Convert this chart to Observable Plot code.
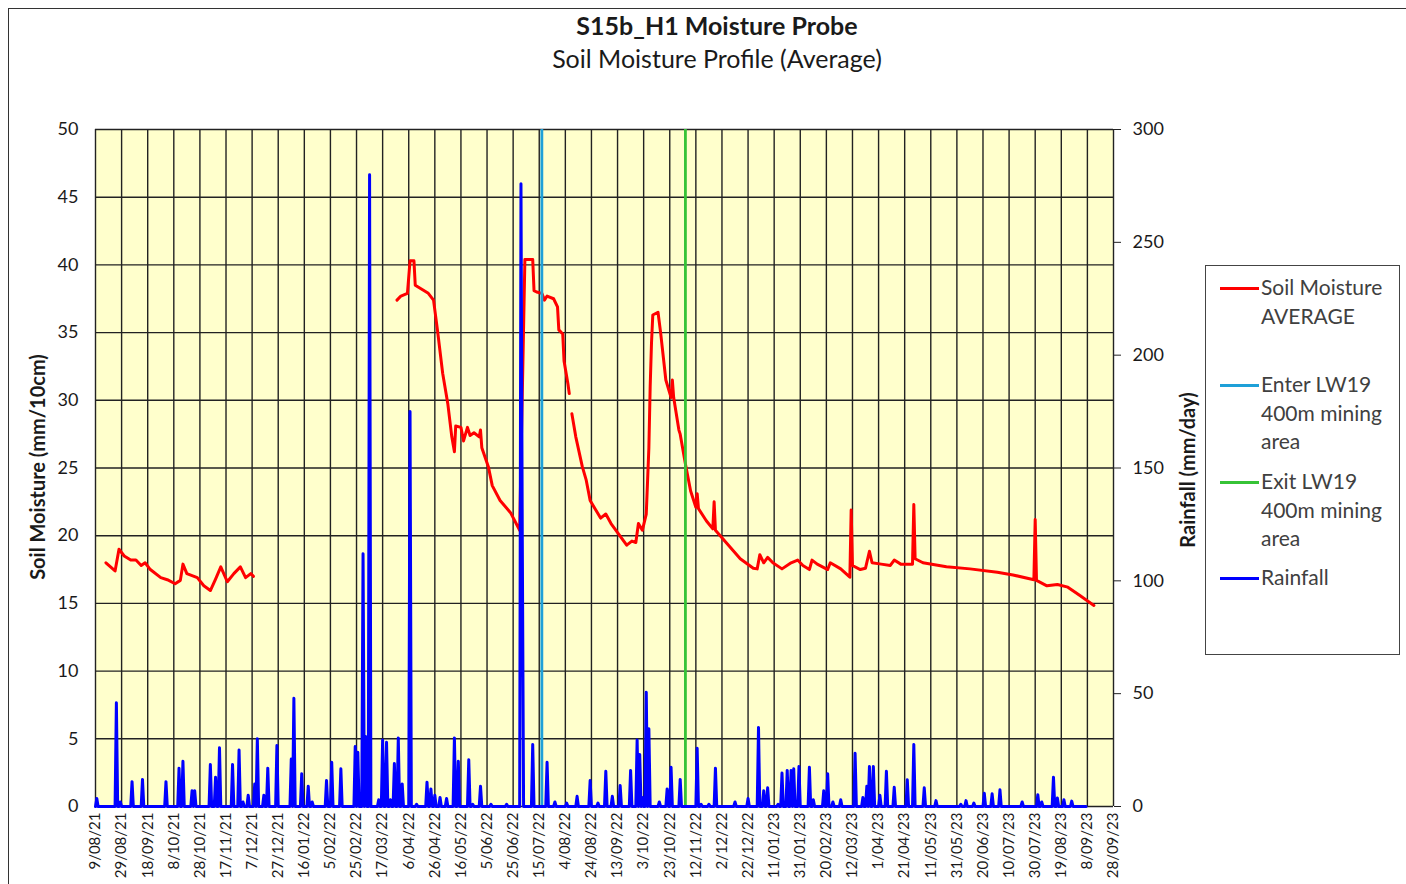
<!DOCTYPE html>
<html>
<head>
<meta charset="utf-8">
<script src="https://cdn.jsdelivr.net/npm/d3@7"></script>
<script src="https://cdn.jsdelivr.net/npm/@observablehq/plot@0.6"></script>
<style>
  html, body { margin: 0; padding: 0; background: #fff; }
  body { font-family: Lato, "Open Sans", sans-serif; color: #1a1a1a; }
  #wrap { position: relative; width: 1406px; height: 884px; overflow: hidden; background: #fff; }
  #frame { position: absolute; left: 8px; top: 8px; width: 1500px; height: 1000px; border: 1px solid #333; box-sizing: border-box; pointer-events: none; }
  #header { position: relative; height: 80px; }
  #title { position: absolute; left: 0; width: 1434px; top: 9px; text-align: center; font-weight: bold; font-size: 25px; line-height: 32px; color: #1a1a1a; }
  #subtitle { position: absolute; left: 0; width: 1434px; top: 42px; text-align: center; font-size: 25px; line-height: 32px; color: #1a1a1a; }
  .ylab { position: absolute; font-weight: bold; font-size: 20px; white-space: nowrap; transform: translate(-50%, -50%) rotate(-90deg); color: #1a1a1a; }
  #legend { position: absolute; left: 1205px; top: 265px; width: 195px; height: 390px; border: 1px solid #444; box-sizing: border-box; background: #fff; }
  .item { position: absolute; left: 0; width: 195px; }
  .sw { position: absolute; left: 14px; width: 39px; height: 0; border-top: 3px solid; }
  .txt { position: absolute; left: 55px; font-size: 21px; line-height: 28.5px; color: #404040; white-space: nowrap; }
</style>
</head>
<body>
<div id="wrap">
  <div id="header">
    <div id="title">S15b_H1 Moisture Probe</div>
    <div id="subtitle">Soil Moisture Profile (Average)</div>
  </div>
  <div id="chart"></div>
  <div class="ylab" style="left:37px; top:467px;">Soil Moisture (mm/10cm)</div>
  <div class="ylab" style="left:1187px; top:470px;">Rainfall (mm/day)</div>
  <div id="legend"></div>
  <div id="frame"></div>
</div>
<script>
// ---------- DATA ----------
const tickLabels = ["9/08/21","29/08/21","18/09/21","8/10/21","28/10/21","17/11/21","7/12/21","27/12/21",
  "16/01/22","5/02/22","25/02/22","17/03/22","6/04/22","26/04/22","16/05/22","5/06/22","25/06/22","15/07/22",
  "4/08/22","24/08/22","13/09/22","3/10/22","23/10/22","12/11/22","2/12/22","22/12/22","11/01/23","31/01/23",
  "20/02/23","12/03/23","1/04/23","21/04/23","11/05/23","31/05/23","20/06/23","10/07/23","30/07/23","19/08/23",
  "8/09/23","28/09/23"];

const leftTicks = [0, 5, 10, 15, 20, 25, 30, 35, 40, 45, 50];
const rightTicks = [0, 50, 100, 150, 200, 250, 300];

// Soil moisture average (mm/10cm); null = no data (gap)
const moistDates = [
  "2021-08-17","2021-08-24","2021-08-27","2021-08-31","2021-09-05","2021-09-09","2021-09-13","2021-09-16",
  "2021-09-20","2021-09-28","2021-10-03","2021-10-09","2021-10-13","2021-10-15","2021-10-18","2021-10-26",
  "2021-10-31","2021-11-05","2021-11-09","2021-11-13","2021-11-18","2021-11-23","2021-11-28","2021-12-02",
  "2021-12-06","2021-12-08","2021-12-09",
  "2022-03-28","2022-03-31","2022-04-05","2022-04-07","2022-04-10","2022-04-11","2022-04-16","2022-04-21",
  "2022-04-25","2022-04-28","2022-05-02","2022-05-06","2022-05-09","2022-05-11","2022-05-12","2022-05-16",
  "2022-05-18","2022-05-21","2022-05-23","2022-05-26","2022-05-30","2022-05-31","2022-06-01","2022-06-06",
  "2022-06-09","2022-06-15","2022-06-23","2022-06-30",
  "2022-07-04","2022-07-07","2022-07-10","2022-07-11","2022-07-13","2022-07-17","2022-07-19","2022-07-21",
  "2022-07-26","2022-07-29","2022-07-30","2022-08-02","2022-08-03","2022-08-06","2022-08-07","2022-08-08",
  "2022-08-09","2022-08-12","2022-08-17","2022-08-20","2022-08-23","2022-08-31","2022-09-04","2022-09-08",
  "2022-09-14","2022-09-20","2022-09-24","2022-09-27","2022-09-29","2022-10-02","2022-10-05","2022-10-07",
  "2022-10-08","2022-10-09","2022-10-10","2022-10-14","2022-10-16","2022-10-20","2022-10-24","2022-10-25",
  "2022-10-26","2022-10-30","2022-10-31","2022-11-04","2022-11-08","2022-11-12","2022-11-13","2022-11-14",
  "2022-11-20","2022-11-25","2022-11-26","2022-11-27","2022-12-06","2022-12-16","2022-12-26","2022-12-29",
  "2022-12-31","2023-01-03","2023-01-06","2023-01-10","2023-01-17","2023-01-24","2023-01-29","2023-02-02",
  "2023-02-07","2023-02-09","2023-02-13","2023-02-21","2023-02-23","2023-03-03","2023-03-10","2023-03-11",
  "2023-03-12","2023-03-18","2023-03-22","2023-03-25","2023-03-27","2023-04-03","2023-04-10","2023-04-13",
  "2023-04-18","2023-04-27","2023-04-28","2023-04-29","2023-05-05","2023-05-23","2023-06-10","2023-07-01",
  "2023-07-13","2023-07-29","2023-07-30","2023-07-31","2023-08-08","2023-08-16","2023-08-24","2023-09-02",
  "2023-09-13"];
const moistValues = [
  18.0,17.4,19.0,18.5,18.2,18.2,17.8,18.0,
  17.5,16.9,16.75,16.45,16.7,17.9,17.2,16.9,
  16.3,15.95,16.8,17.7,16.6,17.2,17.7,16.9,
  17.2,17.0,null,
  37.4,37.7,37.9,40.3,40.3,38.5,38.2,37.9,
  37.4,35.2,32.0,29.7,27.3,26.2,28.1,28.0,
  27.0,28.0,27.4,27.6,27.3,27.8,26.5,25.1,
  23.7,22.6,21.7,20.4,
  40.4,40.4,40.4,38.1,38.0,37.9,37.4,37.7,
  37.5,36.9,35.2,34.9,32.9,31.2,30.5,null,
  29.0,27.3,25.1,24.1,22.6,21.3,21.6,20.9,
  20.1,19.3,19.6,19.5,20.9,20.4,21.6,26.5,
  31.0,34.2,36.3,36.5,35.0,31.5,30.2,31.5,
  30.2,27.8,27.5,25.3,23.3,22.1,23.1,22.0,
  21.1,20.5,22.5,20.4,19.4,18.3,17.6,17.55,
  18.6,18.0,18.4,18.0,17.55,18.0,18.2,17.8,
  17.5,18.2,17.9,17.5,18.0,17.55,16.94,21.9,
  17.8,17.5,17.6,18.85,18.0,17.9,17.8,18.2,
  17.9,17.9,22.3,18.3,18.0,17.7,17.55,17.3,
  17.1,16.75,21.2,16.7,16.3,16.4,16.2,15.6,
  14.85];

// Daily rainfall (mm/day) on rain days; every other day of the record is 0
const rainDates = [
  "2021-08-10","2021-08-25","2021-08-28","2021-09-06","2021-09-14","2021-10-02","2021-10-12","2021-10-15",
  "2021-10-22","2021-10-24","2021-11-05","2021-11-09","2021-11-12","2021-11-22","2021-11-27","2021-11-30",
  "2021-12-04","2021-12-09","2021-12-11","2021-12-16","2021-12-19","2021-12-26","2022-01-06","2022-01-08",
  "2022-01-14","2022-01-19","2022-01-22","2022-02-02","2022-02-06","2022-02-13","2022-02-24","2022-02-26",
  "2022-03-02","2022-03-04","2022-03-07","2022-03-14","2022-03-17","2022-03-20","2022-03-23","2022-03-26",
  "2022-03-29","2022-04-01","2022-04-07","2022-04-12","2022-04-20","2022-04-23","2022-04-26","2022-04-30",
  "2022-05-05","2022-05-11","2022-05-14","2022-05-22","2022-05-25","2022-05-31","2022-06-08","2022-06-20",
  "2022-07-01","2022-07-02","2022-07-10","2022-07-21","2022-07-27","2022-08-05","2022-08-13","2022-08-23",
  "2022-08-29","2022-09-04","2022-09-09","2022-09-15","2022-09-23","2022-09-28","2022-09-30","2022-10-02",
  "2022-10-05","2022-10-07","2022-10-15","2022-10-21","2022-10-24","2022-10-31","2022-11-13","2022-11-16",
  "2022-11-22","2022-11-27","2022-12-12","2022-12-22","2022-12-30","2023-01-03","2023-01-06","2023-01-14",
  "2023-01-17","2023-01-21","2023-01-24","2023-01-26","2023-01-30","2023-02-07","2023-02-10","2023-02-18",
  "2023-02-21","2023-02-25","2023-03-03","2023-03-14","2023-03-20","2023-03-23","2023-03-25","2023-03-28",
  "2023-04-02","2023-04-07","2023-04-13","2023-04-23","2023-04-28","2023-05-06","2023-05-15","2023-06-03",
  "2023-06-07","2023-06-13","2023-06-21","2023-06-27","2023-07-03","2023-07-20","2023-08-01","2023-08-04",
  "2023-08-13","2023-08-16","2023-08-21","2023-08-27"];
const rainValues = [
  3.5,46,2,11,12,11,17,20,
  7,7,18.6,13,26,18.6,25,2,
  5,10,30,5,17,27,21,48,
  14.5,9,2,11.5,19.6,16.7,26.6,24,
  112,31,280,3,29.5,28.5,3,19,
  30.4,10,175,1,10.8,7.8,5,4,
  3.5,30.4,20,20.7,1,9,1,1,
  276,120,27.5,19.6,2,1.5,4.5,11.5,
  1.5,15.6,4.5,9.3,16,29.5,23,4,
  50.6,34.4,2,7.8,17.4,12,25.8,1,
  1,17,2,3.5,35,7,8.3,1,
  14.8,16,16,16.7,17.7,17.4,3,7,
  14.5,2,3,23.6,4,9,17.7,17.7,
  5,15.6,8.5,11.8,27.5,8.3,2.6,1,
  2.6,1.5,5.9,5.6,7.4,2,5.2,2,
  13,3.8,3,2.4];
const rainEnd = "2023-09-07";

const enterDate = "2022-07-17";
const exitDate = "2022-11-04";

const series = [
  {name: "Soil Moisture", lines: ["Soil Moisture", "AVERAGE"], color: "#FF0000", top: 7},
  {name: "Enter", lines: ["Enter LW19", "400m mining", "area"], color: "#1EA0D8", top: 104},
  {name: "Exit", lines: ["Exit LW19", "400m mining", "area"], color: "#36C336", top: 201},
  {name: "Rainfall", lines: ["Rainfall"], color: "#0000FF", top: 297}
];

// ---------- BUILD ----------
const RATIO = rightTicks[rightTicks.length - 1] / leftTicks[leftTicks.length - 1]; // 300/50
const parseISO = d3.utcParse("%Y-%m-%d");
const parseTick = d3.utcParse("%d/%m/%y");
const xTicks = tickLabels.map(parseTick);
const labelOf = new Map(xTicks.map((d, i) => [+d, tickLabels[i]]));

const moist = moistDates.map((d, i) => ({date: parseISO(d), v: moistValues[i] == null ? NaN : moistValues[i]}));
const rainMap = new Map(rainDates.map((d, i) => [+parseISO(d), rainValues[i]]));
const rain = d3.utcDay.range(xTicks[0], d3.utcDay.offset(parseISO(rainEnd), 1))
  .map(d => ({date: d, mm: rainMap.get(+d) ?? 0}));

const colorOf = Object.fromEntries(series.map(s => [s.name, s.color]));
const GRID = "#222";

const chart = Plot.plot({
  width: 1406,
  height: 804,
  marginLeft: 95,
  marginRight: 293,
  marginTop: 49,
  marginBottom: 78,
  style: {fontFamily: "Lato, 'Open Sans', sans-serif", fontSize: "18px", color: "#1a1a1a", background: "transparent", overflow: "visible"},
  x: {type: "utc", domain: [xTicks[0], xTicks[xTicks.length - 1]]},
  y: {domain: [leftTicks[0], leftTicks[leftTicks.length - 1]]},
  marks: [
    Plot.frame({fill: "#FFFFCC", stroke: null}),
    Plot.ruleY(leftTicks, {stroke: GRID, strokeWidth: 1.4}),
    Plot.ruleX(xTicks, {stroke: GRID, strokeWidth: 1.4}),
    Plot.line(moist, {x: "date", y: "v", stroke: colorOf["Soil Moisture"], strokeWidth: 3}),
    Plot.ruleX([parseISO(enterDate)], {stroke: colorOf["Enter"], strokeWidth: 2.8}),
    Plot.ruleX([parseISO(exitDate)], {stroke: colorOf["Exit"], strokeWidth: 2.8}),
    Plot.line(rain, {x: "date", y: d => d.mm / RATIO, stroke: colorOf["Rainfall"], strokeWidth: 3}),
    Plot.axisX(xTicks, {tickFormat: d => labelOf.get(+d), tickRotate: -90, tickSize: 0, tickPadding: 6, fontSize: 15, label: null}),
    Plot.axisY(leftTicks, {anchor: "left", tickSize: 0, tickPadding: 17, fontSize: 18, label: null}),
    Plot.axisY(rightTicks.map(v => v / RATIO), {anchor: "right", tickSize: 7, tickPadding: 12, stroke: GRID,
      tickFormat: d => String(Math.round(d * RATIO)), fontSize: 18, label: null})
  ]
});
document.getElementById("chart").appendChild(chart);

// ---------- LEGEND ----------
const legend = d3.select("#legend");
series.forEach(s => {
  const item = legend.append("div").attr("class", "item").style("top", s.top + "px");
  item.append("div").attr("class", "sw").style("top", "14px").style("border-top-color", s.color);
  const t = item.append("div").attr("class", "txt").style("top", "0px");
  t.html(s.lines.join("<br>"));
});
</script>
</body>
</html>
